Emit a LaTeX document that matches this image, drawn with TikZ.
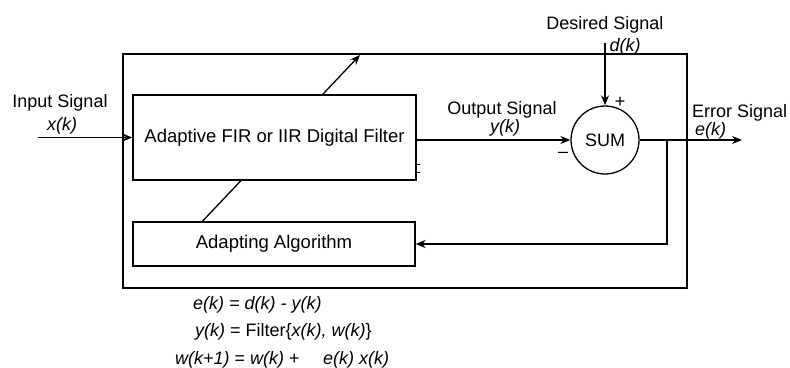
\documentclass[tikz,border=0pt]{standalone}
\usepackage{fontspec}
\setmainfont{Liberation Sans}
\usetikzlibrary{arrows.meta}
\begin{document}
\begin{tikzpicture}[x=1pt,y=-1pt,
  lbl/.style={font=\fontsize{18}{20}\selectfont, inner sep=0pt},
  eq/.style={font=\fontsize{18}{20}\selectfont, inner sep=0pt, anchor=west},
  blk/.style={draw, line width=1.3pt, fill=white, inner sep=0pt, font=\fontsize{18.5}{20}\selectfont},
  wire/.style={line width=1.3pt},
  arr/.style={wire, -{Stealth[length=10pt,width=8pt]}}]
\useasboundingbox (0,0) rectangle (790,367);
% outer frame
\node[draw, line width=1.2pt, minimum width=564pt, minimum height=234pt] (outer) at (405,171) {};
% diagonal adaptation arrow (drawn before the filter box so that the box hides it)
\coordinate (dtip) at (360,55);
\node[blk, minimum width=282pt, minimum height=44pt] (adapt) at (274,244) {Adapting Algorithm};
\draw[arr] ([xshift=70pt]adapt.north west) -- (dtip);
\node[blk, minimum width=283pt, minimum height=85pt] (filter) at (274.5,137.5) {Adaptive FIR or IIR Digital Filter};
% small tick on the filter box
\draw[line width=1pt] ([yshift=16pt]filter.south east) -- ++(3,0)
      ([yshift=8pt]filter.south east) -- ++(3,0);
% sum junction
\node[draw, circle, line width=1.3pt, minimum size=68pt, inner sep=0pt, lbl] (sum) at (605,140) {SUM};
% input
\coordinate (xin) at (38,137.5);
\draw[arr] (xin) -- (filter.west);
\node[lbl] (inlbl) at (60,103) {Input Signal};
\node[lbl] (xk) at (62,126) {\itshape x(k)};
% output
\draw[arr] (filter.east |- sum.west) -- (sum.west);
\node[lbl] (outlbl) at (502,110) {Output Signal};
\node[lbl] (yk) at (505,128) {\itshape y(k)};
\node[lbl] (minus) at (563,155) {\textendash};
% desired
\coordinate (dtop) at (605,43);
\draw[arr] (dtop) -- (sum.north);
\node[lbl] (deslbl) at (605,25) {Desired Signal};
\node[lbl] (dk) at (625,47) {\itshape d(k)};
\node[lbl] (plus) at (620,102) {+};
% error
\coordinate (eout) at (742,140);
\draw[arr] (sum.east) -- (eout);
\node[lbl, anchor=west] (errlbl) at (692,113) {Error Signal};
\node[lbl, anchor=west] (ek) at (695,131) {\itshape e(k)};
% feedback
\coordinate (br) at (667,140);
\draw[arr] (br) |- (adapt.east);
% equations
\node[eq] (eq1) at (193,305) {\itshape e(k) = d(k) - y(k)};
\node[eq] (eq2) at (195,332) {\itshape y(k) \upshape= Filter\{\itshape x(k), w(k)\upshape\}};
\node[eq] (eq3) at (175,360) {\itshape w(k+1) \upshape= \itshape w(k) \upshape+\hspace{1.3em}\itshape e(k) x(k)};
\end{tikzpicture}
\end{document}
